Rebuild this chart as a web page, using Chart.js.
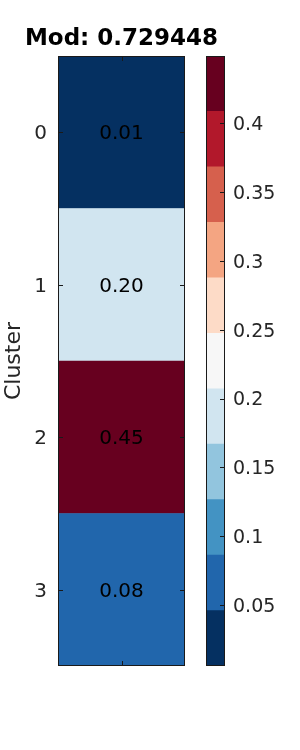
<!DOCTYPE html>
<html>
<head>
<meta charset="utf-8">
<script src="https://cdn.jsdelivr.net/npm/chart.js@4.4.0/dist/chart.umd.min.js"></script>
<style>
  html, body { margin: 0; padding: 0; background: #fff; }
  #wrap { position: relative; width: 300px; height: 750px; }
  #heat { position: absolute; left: 0; top: 0; }
  #cbar { position: absolute; left: 195px; top: 0; }
</style>
</head>
<body>
<div id="wrap">
  <canvas id="heat" width="300" height="750"></canvas>
  <canvas id="cbar" width="105" height="750"></canvas>
</div>
<script>
// data
const clusters = ['0', '1', '2', '3'];
const modValues = [0.0057, 0.2004, 0.4488, 0.0812];
const modTitle = 'Mod: 0.729448';
const cbarTicks = [0.05, 0.1, 0.15, 0.2, 0.25, 0.3, 0.35, 0.4];
// RdBu_r, 11 discrete levels (low -> high)
const binColors = ['#053061', '#2166ac', '#4393c3', '#92c5de', '#d1e5f0', '#f7f7f7',
                   '#fddbc7', '#f4a582', '#d6604d', '#b2182b', '#67001f'];

const FONT = 'DejaVu Sans';
const TXT = '#262626';

const vmin = Math.min(...modValues);
const vmax = Math.max(...modValues);
const binW = (vmax - vmin) / binColors.length;

function colorFor(v) {
  let i = Math.floor((v - vmin) / binW);
  i = Math.max(0, Math.min(binColors.length - 1, i));
  return binColors[i];
}

// frame, inward ticks, cell labels and title for the heatmap
const heatDecor = {
  id: 'heatDecor',
  afterDraw(chart) {
    const { ctx, chartArea: a, scales } = chart;
    ctx.save();
    ctx.strokeStyle = '#1a1a1a';
    ctx.lineWidth = 1;
    // ticks
    ctx.beginPath();
    clusters.forEach((c, i) => {
      const y = Math.round(scales.y.getPixelForValue(i)) + 0.5;
      ctx.moveTo(a.left, y); ctx.lineTo(a.left + 5, y);
      ctx.moveTo(a.right, y); ctx.lineTo(a.right - 5, y);
    });
    const cx = Math.round((a.left + a.right) / 2) + 0.5;
    ctx.moveTo(cx, a.bottom); ctx.lineTo(cx, a.bottom - 5);
    ctx.moveTo(cx, a.top); ctx.lineTo(cx, a.top + 5);
    ctx.stroke();
    ctx.strokeRect(Math.round(a.left) + 0.5, Math.round(a.top) + 0.5,
                   Math.round(a.right - a.left) - 1, Math.round(a.bottom - a.top) - 1);
    // values in cells
    ctx.fillStyle = '#000';
    ctx.font = `20px "${FONT}"`;
    ctx.textAlign = 'center';
    ctx.textBaseline = 'middle';
    modValues.forEach((v, i) => {
      ctx.fillText(v.toFixed(2), (a.left + a.right) / 2, scales.y.getPixelForValue(i) + 2);
    });
    // title
    ctx.font = `bold 23px "${FONT}"`;
    ctx.textBaseline = 'alphabetic';
    ctx.fillText(modTitle, (a.left + a.right) / 2, a.top - 11);
    ctx.restore();
  }
};

new Chart(document.getElementById('heat'), {
  type: 'bar',
  data: {
    labels: clusters,
    datasets: [{
      data: clusters.map(() => 1),
      backgroundColor: modValues.map(colorFor),
      borderWidth: 0,
      barPercentage: 1,
      categoryPercentage: 1
    }]
  },
  options: {
    indexAxis: 'y',
    responsive: false,
    animation: false,
    layout: { padding: { left: 0, right: 115, top: 56, bottom: 84 } },
    plugins: { legend: { display: false }, tooltip: { enabled: false } },
    scales: {
      x: { display: false, min: 0, max: 1 },
      y: {
        grid: { display: false, drawTicks: false },
        border: { display: false },
        ticks: { font: { family: FONT, size: 20 }, color: TXT, padding: 11, labelOffset: 2 },
        title: {
          display: true, text: 'Cluster', color: TXT,
          font: { family: FONT, size: 22 }, padding: { top: 1, bottom: 0 }
        },
        afterFit(s) { s.width = 58; }
      }
    }
  },
  plugins: [heatDecor]
});

// colorbar frame and ticks
const cbarDecor = {
  id: 'cbarDecor',
  afterDraw(chart) {
    const { ctx, chartArea: a, scales } = chart;
    ctx.save();
    ctx.strokeStyle = '#1a1a1a';
    ctx.lineWidth = 1;
    ctx.beginPath();
    cbarTicks.forEach(v => {
      const y = Math.round(scales.y.getPixelForValue(v)) + 0.5;
      ctx.moveTo(a.right, y); ctx.lineTo(a.right - 5, y);
    });
    ctx.stroke();
    ctx.strokeRect(Math.round(a.left) + 0.5, Math.round(a.top) + 0.5,
                   Math.round(a.right - a.left) - 1, Math.round(a.bottom - a.top) - 1);
    ctx.restore();
  }
};

new Chart(document.getElementById('cbar'), {
  type: 'bar',
  data: {
    labels: [''],
    datasets: binColors.map((c, i) => ({
      data: [[vmin + i * binW, vmin + (i + 1) * binW]],
      backgroundColor: c,
      borderWidth: 0,
      barPercentage: 1,
      categoryPercentage: 1,
      grouped: false
    }))
  },
  options: {
    responsive: false,
    animation: false,
    layout: { padding: { left: 11, right: 0, top: 56, bottom: 84 } },
    plugins: { legend: { display: false }, tooltip: { enabled: false } },
    scales: {
      x: { display: false },
      y: {
        position: 'right',
        min: vmin,
        max: vmax,
        grid: { display: false, drawTicks: false },
        border: { display: false },
        ticks: {
          font: { family: FONT, size: 19 }, color: TXT, padding: 8, labelOffset: 2,
          callback: v => String(v)
        },
        afterBuildTicks(s) { s.ticks = cbarTicks.map(v => ({ value: v })); },
        afterFit(s) { s.width = 75; }
      }
    }
  },
  plugins: [cbarDecor]
});
</script>
</body>
</html>
